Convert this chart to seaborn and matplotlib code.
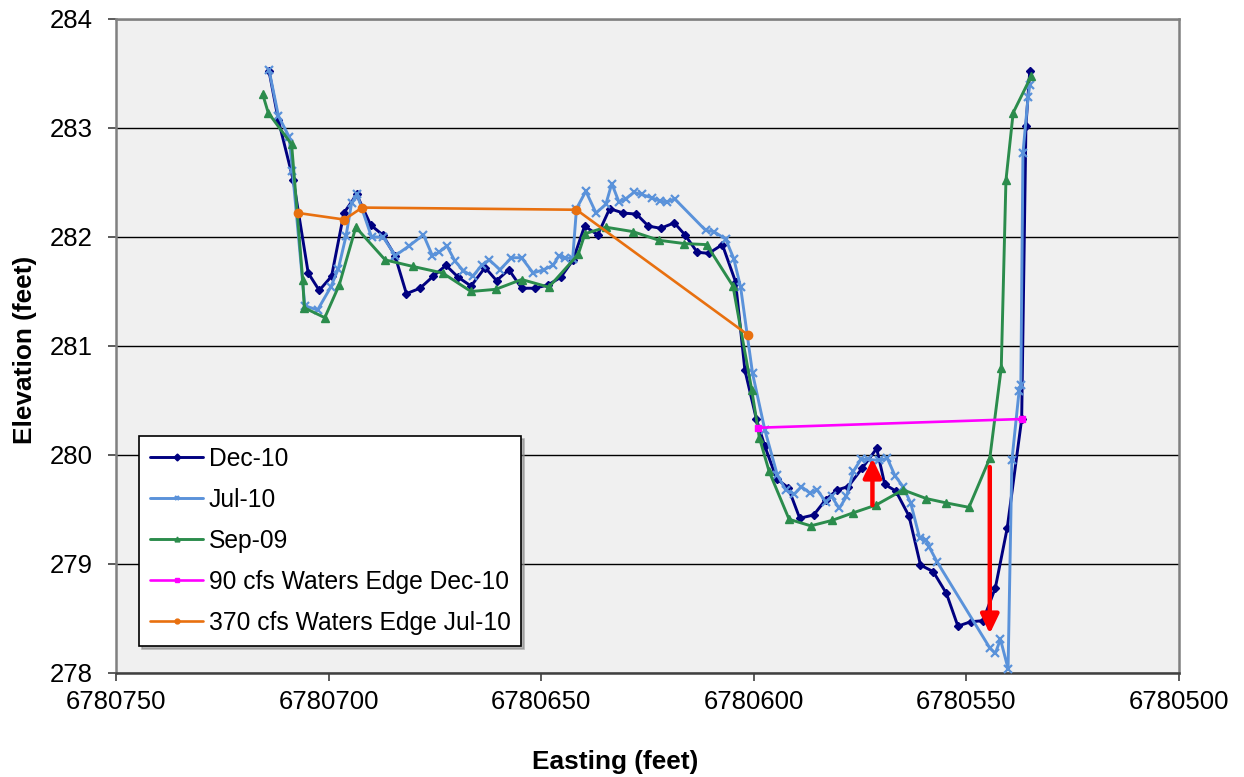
import matplotlib
matplotlib.use("Agg")
import matplotlib.pyplot as plt
import seaborn as sns
import pandas as pd

# ---------------- data ----------------
dec10_x = [6780714.0, 6780711.8, 6780708.3, 6780704.8, 6780702.2, 6780699.3, 6780696.4, 6780693.4,
           6780690.1, 6780687.3, 6780684.4, 6780681.7, 6780678.5, 6780675.4, 6780672.4, 6780669.5,
           6780666.5, 6780663.2, 6780660.5, 6780657.6, 6780654.6, 6780651.5, 6780648.4, 6780645.4,
           6780642.5, 6780639.8, 6780636.7, 6780633.9, 6780630.7, 6780627.6, 6780624.8, 6780621.9,
           6780618.7, 6780616.2, 6780613.3, 6780610.6, 6780607.4, 6780604.3, 6780602.1, 6780599.4,
           6780597.4, 6780594.6, 6780591.9, 6780589.2, 6780585.9, 6780583.1, 6780580.4, 6780577.8,
           6780574.5, 6780571.1, 6780569.2, 6780566.6, 6780563.5, 6780560.8, 6780557.8, 6780554.7,
           6780552.0, 6780549.0, 6780546.1, 6780543.2, 6780540.4, 6780537.0, 6780536.0, 6780535.1]
dec10_y = [283.52, 283.07, 282.52, 281.67, 281.51, 281.64, 282.22, 282.39,
           282.11, 282.02, 281.83, 281.48, 281.53, 281.64, 281.74, 281.63,
           281.55, 281.72, 281.60, 281.70, 281.53, 281.53, 281.56, 281.63,
           281.79, 282.10, 282.02, 282.26, 282.22, 282.21, 282.10, 282.08,
           282.13, 282.02, 281.86, 281.85, 281.93, 281.59, 280.78, 280.33,
           280.08, 279.78, 279.70, 279.42, 279.45, 279.59, 279.68, 279.71,
           279.88, 280.06, 279.73, 279.67, 279.44, 278.99, 278.93, 278.73,
           278.43, 278.47, 278.48, 278.78, 279.33, 280.33, 283.02, 283.52]

jul10_x = [6780714.0, 6780711.8, 6780709.3, 6780708.5, 6780705.6, 6780702.6, 6780699.5, 6780697.7,
           6780695.9, 6780694.6, 6780693.3, 6780689.9, 6780687.2, 6780684.3, 6780681.0, 6780677.7,
           6780675.6, 6780674.0, 6780672.2, 6780670.3, 6780668.3, 6780666.1, 6780664.0, 6780662.2,
           6780659.7, 6780657.0, 6780654.6, 6780651.9, 6780649.4, 6780647.2, 6780645.8, 6780644.3,
           6780642.6, 6780641.7, 6780639.5, 6780637.1, 6780634.8, 6780633.4, 6780631.7, 6780630.1,
           6780628.2, 6780626.4, 6780624.0, 6780622.1, 6780620.4, 6780618.6, 6780611.3, 6780609.4,
           6780606.6, 6780604.7, 6780603.1, 6780600.3, 6780597.4, 6780594.5, 6780592.5, 6780590.5,
           6780588.8, 6780586.8, 6780585.1, 6780583.1, 6780581.7, 6780579.9, 6780578.2, 6780576.6,
           6780574.8, 6780573.1, 6780570.5, 6780568.6, 6780566.8, 6780564.9, 6780563.1, 6780561.0,
           6780559.5, 6780558.8, 6780556.9, 6780544.5, 6780543.2, 6780542.0, 6780540.2, 6780539.3,
           6780537.6, 6780537.2, 6780536.7, 6780535.5, 6780535.1]
jul10_y = [283.53, 283.11, 282.92, 282.61, 281.37, 281.33, 281.54, 281.71,
           282.01, 282.31, 282.39, 282.00, 282.00, 281.83, 281.92, 282.02,
           281.83, 281.86, 281.92, 281.78, 281.69, 281.64, 281.74, 281.79,
           281.70, 281.81, 281.81, 281.67, 281.70, 281.74, 281.83, 281.81,
           281.80, 282.26, 282.42, 282.22, 282.30, 282.49, 282.32, 282.35,
           282.41, 282.39, 282.36, 282.33, 282.32, 282.35, 282.06, 282.05,
           281.98, 281.80, 281.54, 280.75, 280.23, 279.82, 279.68, 279.64,
           279.71, 279.65, 279.68, 279.57, 279.62, 279.51, 279.62, 279.85,
           279.96, 279.96, 279.95, 279.97, 279.81, 279.71, 279.56, 279.24,
           279.22, 279.16, 279.02, 278.23, 278.18, 278.31, 278.04, 279.95,
           280.59, 280.64, 282.77, 283.28, 283.39]

sep09_x = [6780715.5, 6780714.2, 6780708.7, 6780706.1, 6780705.7, 6780700.9, 6780697.5, 6780693.6,
           6780686.7, 6780680.2, 6780673.2, 6780666.5, 6780660.7, 6780654.6, 6780648.2, 6780641.3,
           6780639.7, 6780634.8, 6780628.5, 6780622.3, 6780616.4, 6780611.1, 6780604.9, 6780600.5,
           6780598.7, 6780596.4, 6780591.7, 6780586.6, 6780581.6, 6780576.6, 6780571.3, 6780564.9,
           6780559.4, 6780554.7, 6780549.4, 6780544.5, 6780541.8, 6780540.7, 6780539.0, 6780534.7]
sep09_y = [283.31, 283.14, 282.85, 281.61, 281.35, 281.26, 281.56, 282.09,
           281.79, 281.73, 281.67, 281.50, 281.52, 281.61, 281.54, 281.84,
           282.03, 282.09, 282.05, 281.97, 281.94, 281.93, 281.55, 280.60,
           280.16, 279.85, 279.41, 279.35, 279.40, 279.47, 279.54, 279.68,
           279.60, 279.56, 279.52, 279.97, 280.80, 282.52, 283.14, 283.48]

we90_x = [6780599.0, 6780537.0]
we90_y = [280.25, 280.33]

we370_x = [6780707.1, 6780696.3, 6780692.1, 6780641.7, 6780601.3]
we370_y = [282.22, 282.16, 282.27, 282.25, 281.10]

series_names = ["Dec-10", "Jul-10", "Sep-09", "90 cfs Waters Edge Dec-10", "370 cfs Waters Edge Jul-10"]

# change arrows (x, y_start, y_end)
arrow_x = [6780572.1, 6780544.5]
arrow_y0 = [279.54, 279.89]
arrow_y1 = [279.97, 278.36]

x_ticks = [6780750, 6780700, 6780650, 6780600, 6780550, 6780500]
y_ticks = [278, 279, 280, 281, 282, 283, 284]

# ---------------- style ----------------
sns.set_theme(style="white")
plt.rcParams["font.family"] = ["Liberation Sans", "DejaVu Sans"]
plt.rcParams["text.color"] = "black"
plt.rcParams["axes.labelcolor"] = "black"
plt.rcParams["xtick.color"] = "black"
plt.rcParams["ytick.color"] = "black"

fig = plt.figure(figsize=(12.44, 7.77), dpi=100)
ax = fig.add_axes([116 / 1244, 1 - 673 / 777, 1063 / 1244, 654 / 777])
ax.set_facecolor("#F0F0F0")

styles = [
    dict(color="#000080", marker="D", markersize=4.0, mew=1.0, lw=2.1),
    dict(color="#5A92DA", marker="x", markersize=5.5, mew=1.6, lw=2.1),
    dict(color="#2B8C4C", marker="^", markersize=6.0, mew=1.0, lw=2.1),
    dict(color="#FF00FF", marker="s", markersize=4.8, mew=1.0, lw=1.9),
    dict(color="#E8700F", marker="o", markersize=6.0, mew=1.0, lw=1.9),
]
data = [(dec10_x, dec10_y), (jul10_x, jul10_y), (sep09_x, sep09_y),
        (we90_x, we90_y), (we370_x, we370_y)]

for (xs, ys), name, st in zip(data, series_names, styles):
    df = pd.DataFrame({"Easting": xs, "Elevation": ys})
    sns.lineplot(data=df, x="Easting", y="Elevation", sort=False, estimator=None,
                 ax=ax, label=name, color=st["color"], marker=st["marker"],
                 markersize=st["markersize"], markeredgecolor=st["color"],
                 markerfacecolor=st["color"], markeredgewidth=st["mew"],
                 linewidth=st["lw"], clip_on=False, zorder=3)

for xa, y0, y1 in zip(arrow_x, arrow_y0, arrow_y1):
    ax.annotate("", xy=(xa, y1), xytext=(xa, y0),
                arrowprops=dict(arrowstyle="-|>,head_width=0.55,head_length=1.15",
                                mutation_scale=10, color="#FF0000", lw=3.2,
                                shrinkA=0, shrinkB=0), zorder=5)

ax.set_xlim(6780750, 6780500)
ax.set_ylim(278, 284)
ax.set_xticks(x_ticks)
ax.set_xticklabels([str(t) for t in x_ticks])
ax.set_yticks(y_ticks)
ax.set_yticklabels([str(t) for t in y_ticks])

ax.yaxis.grid(True, color="black", linewidth=1.0)
ax.xaxis.grid(False)
ax.set_axisbelow(True)

for side in ["left", "right", "top"]:
    ax.spines[side].set_color("#808080")
    ax.spines[side].set_linewidth(1.8)
ax.spines["bottom"].set_color("#404040")
ax.spines["bottom"].set_linewidth(1.8)

ax.tick_params(axis="x", direction="out", length=6, width=1.2, color="#404040",
               labelcolor="black", pad=6, labelsize=18.5, bottom=True)
ax.tick_params(axis="y", direction="out", length=6, width=1.2, color="#404040",
               labelcolor="black", pad=11, labelsize=18.5, left=True)

ax.set_xlabel("Easting (feet)", fontsize=18.9, fontweight="bold", va="center", color="black")
ax.xaxis.set_label_coords(0.470, -0.136)
ax.set_ylabel("Elevation (feet)", fontsize=18.9, fontweight="bold", va="center", color="black")
ax.yaxis.set_label_coords(-0.0853, 0.494)

leg = ax.legend(loc="upper left", bbox_to_anchor=(0.0216, 0.3624), borderaxespad=0,
                fontsize=17.7, frameon=True, fancybox=False, framealpha=1,
                edgecolor="black", handlelength=2.16, handletextpad=0.22,
                borderpad=0.45, labelspacing=0.69, labelcolor="black",
                shadow={"color": "#8c8c8c", "alpha": 0.6})
leg.get_frame().set_linewidth(1.2)
for h in leg.legend_handles:
    h.set_markersize(3.5)

fig.savefig("out.png", dpi=100, facecolor="white")
